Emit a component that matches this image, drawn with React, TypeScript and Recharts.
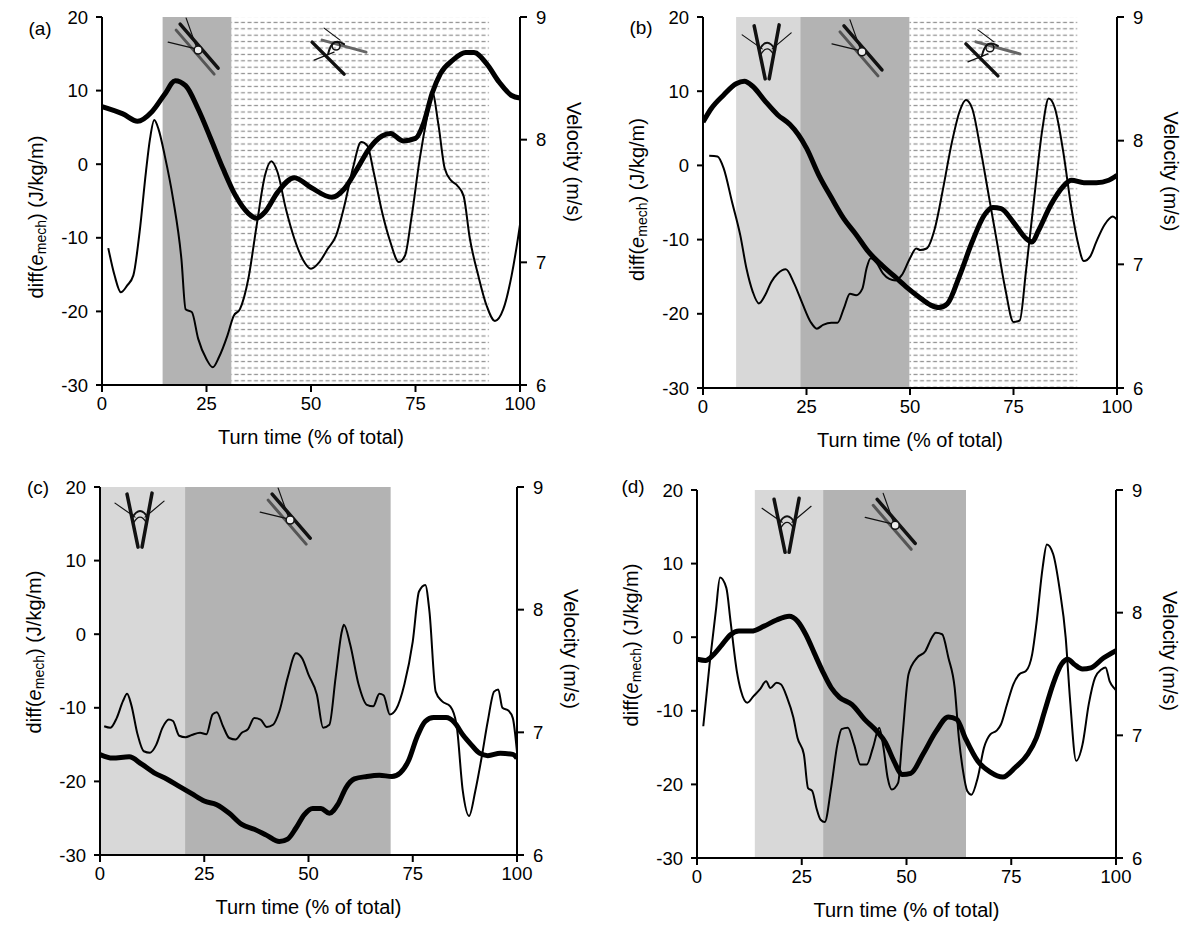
import { LineChart, Line, XAxis, YAxis, ReferenceArea, ReferenceDot } from "recharts";

const FONT = "'Liberation Sans', Arial, Helvetica, sans-serif";

// ---- panel (a) ----
const aMechT = [1.5, 3, 4.5, 6, 7.5, 9, 10.5, 11.5, 12.5, 13.5, 15, 17, 19, 20, 21.5, 23, 25, 26.5, 28, 30, 31.5, 33, 35, 37, 39, 40.5, 42, 44, 46, 48, 50, 52, 54, 56, 58, 60, 62, 63.5, 65, 67, 69, 71, 72.5, 74, 76, 78, 79, 80.5, 82, 83.5, 85, 86.5, 88, 90, 92, 94, 96, 98, 99.5, 100];
const aMech = [-11.4, -15.1, -17.4, -16.5, -15.1, -9.2, -1.1, 3.5, 6.0, 4.8, 1.2, -4.7, -12.9, -19.7, -20.1, -23.7, -26.5, -27.6, -26.2, -23.3, -20.6, -19.7, -15.6, -8.3, -1.5, 0.4, -1.1, -6.1, -10.1, -12.9, -14.2, -13.3, -11.5, -9.7, -5.6, -0.6, 3.0, 2.5, -1.1, -6.5, -10.6, -13.3, -12.4, -7.4, 0.7, 7.1, 9.8, 5.3, -0.6, -2.2, -2.9, -4.3, -10.1, -15.1, -19.2, -21.3, -19.7, -15.1, -10.1, -8.2];
const aVelT = [0, 5, 8.5, 12, 15, 17.5, 20, 23, 26, 29, 32, 35, 37, 39, 42, 46, 50, 55, 58, 61, 64, 67, 69, 72, 75, 77, 79, 81, 84, 87, 89, 92, 95, 98, 100];
const aVel = [8.27, 8.21, 8.15, 8.23, 8.37, 8.48, 8.44, 8.25, 8.01, 7.76, 7.54, 7.40, 7.36, 7.41, 7.57, 7.69, 7.61, 7.53, 7.60, 7.76, 7.93, 8.03, 8.05, 7.99, 8.01, 8.14, 8.38, 8.54, 8.65, 8.71, 8.71, 8.62, 8.47, 8.36, 8.34];

// ---- panel (b) ----
const bMechT = [1.5, 3.5, 5, 7, 9, 10.5, 12, 13.5, 15, 16.5, 18, 20, 22, 24, 26, 27.5, 29, 31, 32.5, 34, 35.5, 37, 38.5, 39.5, 40.5, 42, 43.5, 45, 46.5, 48, 50, 51.5, 52.5, 54, 56, 58, 60, 62, 63.5, 65, 67, 69, 71, 73, 75, 76.5, 78, 80, 82, 83.5, 85, 87, 89, 90.5, 92, 93.5, 95, 97, 99, 100];
const bMech = [1.3, 1.2, -0.4, -4.9, -9.4, -13.9, -17.0, -18.6, -17.5, -15.7, -14.6, -14.0, -15.9, -18.6, -21.1, -22.0, -21.5, -21.2, -21.2, -19.3, -17.3, -17.5, -16.6, -13.9, -12.5, -13.2, -14.6, -15.3, -15.5, -14.8, -12.5, -11.2, -11.4, -11.2, -8.5, -3.1, 2.8, 7.3, 8.8, 7.7, 2.3, -4.0, -10.3, -16.6, -21.1, -20.9, -14.3, -4.4, 5.0, 9.0, 7.7, 1.9, -5.8, -10.3, -12.9, -12.3, -10.3, -8.0, -6.9, -7.3];
const bVelT = [0, 2, 5, 8, 10, 12, 15, 18, 21, 23, 25, 28, 31, 34, 37, 40, 43, 46, 49, 52, 55, 57, 59, 62, 65, 68, 70, 72, 75, 78, 79.5, 81, 84, 87, 89, 92, 95, 98, 100];
const bVel = [8.15, 8.26, 8.37, 8.46, 8.48, 8.44, 8.32, 8.21, 8.13, 8.05, 7.94, 7.72, 7.54, 7.37, 7.24, 7.10, 7.00, 6.91, 6.82, 6.74, 6.67, 6.65, 6.68, 6.91, 7.18, 7.40, 7.46, 7.45, 7.34, 7.21, 7.18, 7.27, 7.48, 7.63, 7.68, 7.66, 7.66, 7.68, 7.72];

// ---- panel (c) ----
const cMechT = [1, 2.5, 4, 5.5, 6.5, 7.5, 9, 10.5, 12, 13.5, 15, 16.5, 17.5, 19, 20.5, 22, 24, 25.5, 27, 28, 29.5, 31, 32.5, 34, 35.5, 37, 38.5, 40, 41.5, 43, 45, 47, 48.5, 50, 52, 53.5, 55, 56.5, 58, 58.5, 60, 62, 64, 65.5, 67, 68, 69.5, 71, 73, 75, 76.5, 78, 79, 80.5, 82, 84, 85.5, 87, 88.5, 90, 91.5, 93, 94.5, 95.5, 96.5, 98, 99, 100];
const cMech = [-12.5, -12.7, -11.4, -9.1, -8.1, -9.6, -13.6, -15.9, -16.1, -15.0, -12.7, -11.6, -11.8, -13.8, -14.0, -13.7, -13.4, -13.6, -10.9, -10.6, -12.5, -14.1, -14.3, -13.4, -12.9, -11.4, -11.6, -12.6, -12.3, -10.5, -5.9, -2.6, -3.3, -5.5, -8.2, -12.7, -12.3, -5.9, 0.4, 1.3, -1.4, -6.8, -9.6, -9.8, -8.1, -8.3, -10.9, -10.2, -6.8, -1.0, 5.8, 6.7, 3.1, -7.8, -9.1, -9.8, -12.3, -21.3, -24.7, -21.3, -16.8, -11.8, -7.8, -7.5, -10.0, -10.4, -11.4, -16.0];
const cVelT = [0, 3, 7, 10, 13, 16, 19, 22, 25, 28, 31, 34, 37, 40, 43, 45, 47, 49, 51, 53, 55, 57, 59, 61, 64, 67, 70, 72, 74, 76, 78, 80, 83, 85, 87, 89, 91, 93, 96, 99, 100];
const cVel = [6.82, 6.79, 6.80, 6.74, 6.67, 6.62, 6.56, 6.50, 6.44, 6.41, 6.34, 6.25, 6.21, 6.16, 6.11, 6.13, 6.22, 6.33, 6.38, 6.38, 6.34, 6.41, 6.55, 6.62, 6.64, 6.65, 6.64, 6.67, 6.77, 6.96, 7.09, 7.12, 7.12, 7.08, 6.98, 6.90, 6.83, 6.81, 6.83, 6.82, 6.79];

// ---- panel (d) ----
const dMechT = [1.5, 3, 4.5, 5.5, 7, 8, 9.5, 10.5, 12, 13.5, 15, 16.5, 17.5, 19, 20, 21.5, 23, 24, 25.5, 26.5, 27.5, 28.5, 29.5, 30.5, 32, 33.5, 34.5, 36, 37.5, 39, 40.5, 42, 43.5, 44.5, 45.5, 46.5, 48, 49, 50.5, 52.5, 54.5, 56, 57, 58.5, 60, 61.5, 62.5, 63.5, 64.5, 65.5, 67, 68.5, 70, 71.5, 72.5, 74, 75.5, 77, 78.5, 80, 81, 82.5, 83.5, 85, 86.5, 88, 89, 90.5, 92, 93.5, 95, 96.5, 97.5, 98.5, 99.5, 100];
const dMech = [-12.1, -3.7, 3.6, 8.1, 6.7, 2.2, -4.6, -7.3, -8.9, -8.0, -7.1, -6.0, -6.9, -6.2, -6.4, -8.2, -10.9, -13.7, -15.9, -20.5, -20.9, -23.2, -24.8, -25.1, -20.5, -14.6, -12.5, -12.3, -14.6, -17.3, -17.3, -15.0, -12.3, -15.0, -19.1, -20.7, -19.8, -13.7, -5.0, -2.8, -1.9, -0.1, 0.6, 0.4, -2.8, -6.9, -13.7, -18.2, -20.9, -21.4, -19.1, -15.0, -13.2, -12.7, -11.9, -9.1, -6.4, -5.0, -4.6, -2.3, 1.8, 9.5, 12.6, 11.3, 6.7, -0.1, -8.2, -16.8, -14.6, -9.1, -5.5, -4.4, -4.1, -6.0, -6.9, -7.2];
const dVelT = [0, 2, 4, 6, 8, 10, 13, 16, 19, 22, 24, 26, 28, 30, 32, 34, 37, 40, 43, 45, 47, 49, 51, 54, 57, 60, 62, 64, 67, 70, 73, 76, 79, 81, 83, 85, 87, 88.5, 90, 92, 94, 97, 100];
const dVel = [7.62, 7.61, 7.66, 7.74, 7.82, 7.85, 7.85, 7.89, 7.94, 7.97, 7.93, 7.82, 7.67, 7.52, 7.39, 7.31, 7.25, 7.13, 7.03, 6.94, 6.79, 6.68, 6.69, 6.85, 7.03, 7.15, 7.13, 6.98, 6.79, 6.70, 6.66, 6.74, 6.85, 6.98, 7.20, 7.42, 7.58, 7.62, 7.58, 7.54, 7.55, 7.63, 7.69];

const zip = (t: number[], v: number[]) => t.map((x, i) => ({ x, y: v[i] }));

const axisStyle = { stroke: "#000", strokeWidth: 2 };
const tickStyle = { fill: "#000", fontSize: 18.5, fontFamily: FONT };

const ZONE_FILL: Record<string, string> = { light: "#d8d8d8", dark: "#b3b3b3" };

function SkierIcon({ cx, cy, kind }: { cx: number; cy: number; kind: string }) {
  if (cx == null || cy == null) return null;
  if (kind === "v") {
    return (
      <g transform={`translate(${cx},${cy})`} stroke="#111" fill="none" strokeLinecap="round">
        <line x1={-13} y1={-26} x2={-2} y2={27} strokeWidth={3.5} />
        <line x1={12} y1={-27} x2={2} y2={27} strokeWidth={3.5} />
        <line x1={-5} y1={-3} x2={-25} y2={-17} strokeWidth={1.2} />
        <line x1={5} y1={-3} x2={24} y2={-19} strokeWidth={1.2} />
        <path d="M -8 -2 Q 0 -16 8 -2" strokeWidth={2} />
        <path d="M -6 2 Q 0 -8 6 2" strokeWidth={1.3} />
      </g>
    );
  }
  if (kind === "diag") {
    return (
      <g transform={`translate(${cx},${cy})`} stroke="#111" fill="none" strokeLinecap="round">
        <line x1={-18} y1={-26} x2={20} y2={18} strokeWidth={3.5} />
        <line x1={-22} y1={-20} x2={16} y2={24} strokeWidth={3} stroke="#555" />
        <line x1={-1} y1={-1} x2={-12} y2={-32} strokeWidth={1.2} />
        <line x1={-1} y1={-1} x2={-30} y2={-8} strokeWidth={1.2} />
        <circle cx={0} cy={0} r={4} strokeWidth={1.5} fill="#eee" />
      </g>
    );
  }
  return (
    <g transform={`translate(${cx},${cy})`} stroke="#111" fill="none" strokeLinecap="round">
      <line x1={-24} y1={-8} x2={8} y2={24} strokeWidth={3.5} />
      <line x1={-14} y1={-10} x2={30} y2={2} strokeWidth={3} stroke="#666" />
      <line x1={-12} y1={-22} x2={4} y2={-10} strokeWidth={1.2} />
      <line x1={-2} y1={2} x2={-22} y2={10} strokeWidth={1.2} />
      <path d="M -8 4 Q -4 -14 8 -6" strokeWidth={2} />
      <circle cx={0} cy={-4} r={4} strokeWidth={1.5} />
    </g>
  );
}

type Zone = { from: number; to: number; kind: string };
type Icon = { x: number; y: number; kind: string };

interface PanelProps {
  id: string;
  tag: string;
  plotLeft: number;
  plotTop: number;
  plotW: number;
  plotH: number;
  mech: { x: number; y: number }[];
  vel: { x: number; y: number }[];
  zones: Zone[];
  icons: Icon[];
  tagDx: number;
  tagDy: number;
  leftDy: number;
  rightDy: number;
}

function Panel(p: PanelProps) {
  const w = p.plotW;
  const h = p.plotH;
  const margin = { top: 17, left: 42, right: 438 - w, bottom: 408 - h };
  const lx = 102 - 66;
  const ly = 17 + h / 2 + p.leftDy;
  const rx = 102 + w + 54;
  const ry = 17 + h / 2 + p.rightDy;
  return (
    <div style={{ position: "absolute", left: p.plotLeft - 102, top: p.plotTop - 17 }}>
      <LineChart width={600} height={470} margin={margin}>
        <defs>
          <pattern id={`hatch-${p.id}`} width={6.5} height={6.4} patternUnits="userSpaceOnUse">
            <rect width={6.5} height={6.4} fill="#fff" />
            <line x1={0.5} y1={3.2} x2={4.5} y2={3.2} stroke="#8c8c8c" strokeWidth={1.2} />
          </pattern>
        </defs>
        <XAxis
          type="number"
          dataKey="x"
          domain={[0, 100]}
          ticks={[0, 25, 50, 75, 100]}
          allowDataOverflow
          height={45}
          tick={tickStyle}
          tickSize={7}
          tickMargin={5}
          axisLine={axisStyle}
          tickLine={axisStyle}
          label={{
            content: () => (
              <text x={102 + w / 2} y={17 + h + 52} textAnchor="middle" dominantBaseline="central" fontSize={20} fontFamily={FONT} fill="#000">
                Turn time (% of total)
              </text>
            ),
          }}
        />
        <YAxis
          yAxisId="left"
          domain={[-30, 20]}
          ticks={[-30, -20, -10, 0, 10, 20]}
          width={60}
          tick={tickStyle}
          tickSize={6}
          tickMargin={8}
          axisLine={axisStyle}
          tickLine={axisStyle}
          label={{
            content: () => (
              <g>
                <text x={102 + p.tagDx} y={17 + p.tagDy} textAnchor="middle" dominantBaseline="central" fontSize={19} fontFamily={FONT} fill="#000">
                  {p.tag}
                </text>
                <text
                  x={lx}
                  y={ly}
                  transform={`rotate(-90 ${lx} ${ly})`}
                  textAnchor="middle"
                  dominantBaseline="central"
                  fontSize={20}
                  fontFamily={FONT}
                  fill="#000"
                >
                  diff(<tspan fontStyle="italic">e</tspan>
                  <tspan fontSize={14} dy={5}>mech</tspan>
                  <tspan dy={-5}>) (J/kg/m)</tspan>
                </text>
              </g>
            ),
          }}
        />
        <YAxis
          yAxisId="right"
          orientation="right"
          domain={[6, 9]}
          ticks={[6, 7, 8, 9]}
          width={60}
          tick={tickStyle}
          tickSize={7}
          tickMargin={9}
          axisLine={axisStyle}
          tickLine={axisStyle}
          label={{
            content: () => (
              <text
                x={rx}
                y={ry}
                transform={`rotate(90 ${rx} ${ry})`}
                textAnchor="middle"
                dominantBaseline="central"
                fontSize={20}
                fontFamily={FONT}
                fill="#000"
              >
                Velocity (m/s)
              </text>
            ),
          }}
        />
        {p.zones.map((z, i) => (
          <ReferenceArea
            key={`z${i}`}
            yAxisId="left"
            x1={z.from}
            x2={z.to}
            y1={-30}
            y2={20}
            fill={z.kind === "hatch" ? `url(#hatch-${p.id})` : ZONE_FILL[z.kind]}
            fillOpacity={1}
            stroke="none"
          />
        ))}
        <Line
          yAxisId="left"
          data={p.mech}
          dataKey="y"
          type="monotone"
          stroke="#000"
          strokeWidth={2}
          dot={false}
          isAnimationActive={false}
        />
        <Line
          yAxisId="right"
          data={p.vel}
          dataKey="y"
          type="monotone"
          stroke="#000"
          strokeWidth={5}
          dot={false}
          isAnimationActive={false}
        />
        {p.icons.map((ic, i) => (
          <ReferenceDot
            key={`i${i}`}
            yAxisId="left"
            x={ic.x}
            y={ic.y}
            r={0}
            shape={(sp: any) => <SkierIcon cx={sp.cx} cy={sp.cy} kind={ic.kind} />}
          />
        ))}
      </LineChart>
    </div>
  );
}

export default function App() {
  return (
    <div style={{ position: "absolute", left: 0, top: 0, width: 1200, height: 931, overflow: "hidden", background: "#fff" }}>
      <Panel
        id="a"
        tag="(a)"
        plotLeft={102}
        plotTop={17}
        plotW={418}
        plotH={368}
        mech={zip(aMechT, aMech)}
        vel={zip(aVelT, aVel)}
        zones={[
          { from: 14.5, to: 31, kind: "dark" },
          { from: 31, to: 92.6, kind: "hatch" },
        ]}
        icons={[
          { x: 23, y: 15.5, kind: "diag" },
          { x: 56, y: 15.5, kind: "cross" },
        ]}
        tagDx={-62}
        tagDy={11}
        leftDy={16}
        rightDy={-39}
      />
      <Panel
        id="b"
        tag="(b)"
        plotLeft={703}
        plotTop={17}
        plotW={414}
        plotH={371}
        mech={zip(bMechT, bMech)}
        vel={zip(bVelT, bVel)}
        zones={[
          { from: 8, to: 23.5, kind: "light" },
          { from: 23.5, to: 49.9, kind: "dark" },
          { from: 49.9, to: 90.4, kind: "hatch" },
        ]}
        icons={[
          { x: 15.5, y: 15.3, kind: "v" },
          { x: 38.4, y: 15.3, kind: "diag" },
          { x: 69.3, y: 15.3, kind: "cross" },
        ]}
        tagDx={-62}
        tagDy={10}
        leftDy={-3}
        rightDy={-31}
      />
      <Panel
        id="c"
        tag="(c)"
        plotLeft={100}
        plotTop={487}
        plotW={417}
        plotH={368}
        mech={zip(cMechT, cMech)}
        vel={zip(cVelT, cVel)}
        zones={[
          { from: 0, to: 20.4, kind: "light" },
          { from: 20.4, to: 69.7, kind: "dark" },
        ]}
        icons={[
          { x: 9.6, y: 15.5, kind: "v" },
          { x: 45.6, y: 15.5, kind: "diag" },
        ]}
        tagDx={-62}
        tagDy={0}
        leftDy={-19}
        rightDy={-22}
      />
      <Panel
        id="d"
        tag="(d)"
        plotLeft={697}
        plotTop={490}
        plotW={419}
        plotH={368}
        mech={zip(dMechT, dMech)}
        vel={zip(dVelT, dVel)}
        zones={[
          { from: 13.8, to: 30.1, kind: "light" },
          { from: 30.1, to: 64.2, kind: "dark" },
        ]}
        icons={[
          { x: 21.5, y: 15.2, kind: "v" },
          { x: 47.3, y: 15.2, kind: "diag" },
        ]}
        tagDx={-64}
        tagDy={-4}
        leftDy={-29}
        rightDy={-23}
      />
    </div>
  );
}
